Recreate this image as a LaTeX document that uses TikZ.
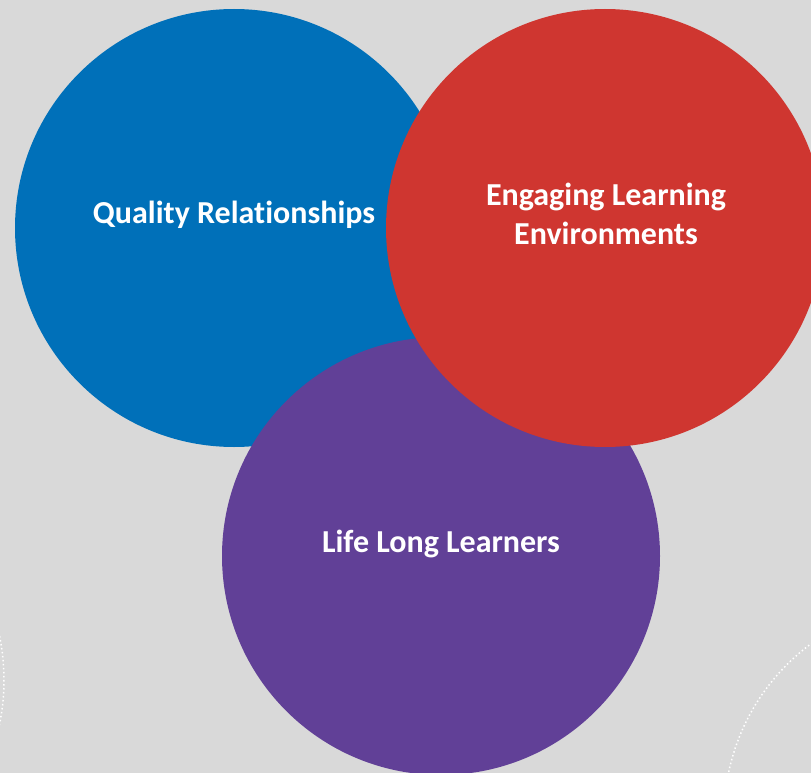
\documentclass[tikz,border=0pt]{standalone}
\usepackage{fontspec}
\setmainfont[Ligatures=NoCommon]{Carlito}
\definecolor{bg}{RGB}{217,217,217}
\definecolor{cblue}{RGB}{0,112,185}
\definecolor{cred}{RGB}{207,54,48}
\definecolor{cpurple}{RGB}{97,64,151}
\begin{document}
\begin{tikzpicture}[x=1pt,y=-1pt,
  disc/.style={circle,minimum size=438pt,inner sep=0pt,outer sep=0pt},
  lbl/.style={text=white,font=\bfseries\fontsize{32}{39}\selectfont,align=center},
  dotarc/.style={white,line width=1.5pt,dash pattern=on 1.5pt off 2.5pt}]
\fill[bg] (0,0) rectangle (811,773);
\useasboundingbox (0,0) rectangle (811,773);
\begin{scope}
\clip (0,0) rectangle (811,773);
\draw[dotarc] (-215,680) circle[radius=219];
\draw[dotarc] (940,817) circle[radius=216];
\node[disc,fill=cblue] (qr) at (234,228) {};
\node[disc,fill=cpurple] (ll) at (441,556) {};
\node[disc,fill=cred] (el) at (605,228) {};
\end{scope}
\node[lbl] (tqr) at (234,215) {Quality Relationships};
\node[lbl] (tel) at (606,214) {Engaging Learning\\Environments};
\node[lbl] (tll) at (441,544) {Life Long Learners};
\end{tikzpicture}
\end{document}
